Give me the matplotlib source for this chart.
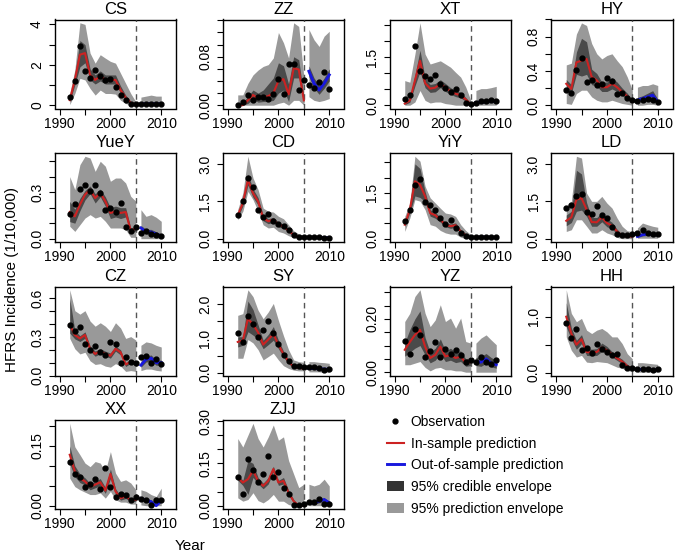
import numpy as np
import matplotlib
matplotlib.use('Agg')
import matplotlib.pyplot as plt
from matplotlib.lines import Line2D
from matplotlib.patches import Patch

plt.rcParams['font.family'] = ['Liberation Sans', 'DejaVu Sans']

years = list(range(1992, 2011))
split_year = 2005
regions = ['CS', 'ZZ', 'XT', 'HY', 'YueY', 'CD', 'YiY', 'LD',
           'CZ', 'SY', 'YZ', 'HH', 'XX', 'ZJJ']

# observed incidence, fitted/predicted median, 95% prediction and credible bounds
cs_obs = [0.42, 1.2, 2.95, 1.67, 1.37, 1.75, 1.45, 1.25, 1.3, 0.92, 0.5, 0.25, 0.08, 0.07, 0.07, 0.08, 0.07, 0.07, 0.07]
cs_fit = [0.25, 1.25, 2.5, 2.58, 1.5, 1.25, 1.45, 1.25, 1.25, 1.25, 0.75, 0.38, 0.12, 0.03, 0.06, 0.07, 0.07, 0.07, 0.06]
cs_pi_hi = [0.58, 1.75, 4.08, 4.0, 2.58, 2.08, 2.5, 2.33, 2.17, 2.08, 1.58, 1.08, 0.58, 0.17, 0.4, 0.45, 0.5, 0.45, 0.45]
cs_pi_lo = [0.03, 0.58, 1.33, 1.25, 0.83, 0.5, 0.75, 0.58, 0.58, 0.55, 0.25, 0.08, 0.02, 0.0, 0, 0, 0, 0, 0]
cs_ci_hi = [0.35, 1.5, 3.2, 3.0, 1.8, 1.5, 1.7, 1.5, 1.5, 1.5, 0.95, 0.5, 0.18, 0.06, 0.1, 0.1, 0.1, 0.1, 0.1]
cs_ci_lo = [0.18, 1.0, 1.9, 2.1, 1.25, 1.05, 1.2, 1.05, 1.05, 1.05, 0.6, 0.28, 0.08, 0.01, 0.04, 0.04, 0.04, 0.04, 0.04]

zz_obs = [0.0, 0.006, 0.017, 0.008, 0.013, 0.014, 0.011, 0.018, 0.043, 0.019, 0.068, 0.068, 0.025, 0.041, 0.034, 0.029, 0.039, 0.054, 0.026]
zz_fit = [0.0, 0.0, 0.008, 0.017, 0.011, 0.013, 0.015, 0.02, 0.04, 0.043, 0.018, 0.061, 0.059, 0.008, 0.056, 0.036, 0.025, 0.036, 0.05]
zz_pi_hi = [0.017, 0.017, 0.036, 0.05, 0.058, 0.064, 0.067, 0.078, 0.12, 0.103, 0.078, 0.136, 0.13, 0.047, 0.125, 0.108, 0.097, 0.114, 0.122]
zz_pi_lo = [0, 0, 0, 0, 0, 0, 0, 0, 0.003, 0.005, 0, 0.008, 0.008, 0, 0.014, 0.008, 0.006, 0.008, 0.011]
zz_ci_hi = [0.002, 0.004, 0.015, 0.025, 0.02, 0.025, 0.035, 0.045, 0.07, 0.065, 0.035, 0.08, 0.075, 0.015, 0.065, 0.045, 0.033, 0.045, 0.06]
zz_ci_lo = [0, 0, 0.003, 0.01, 0.005, 0.006, 0.006, 0.008, 0.02, 0.025, 0.006, 0.045, 0.045, 0.003, 0.047, 0.028, 0.018, 0.028, 0.04]

xt_obs = [0.18, 0.31, 1.84, 1.08, 0.9, 0.82, 0.93, 0.67, 0.55, 0.41, 0.52, 0.33, 0.07, 0.05, 0.08, 0.12, 0.12, 0.15, 0.12]
xt_fit = [0.05, 0.15, 0.77, 1.39, 0.69, 0.52, 0.55, 0.67, 0.55, 0.44, 0.36, 0.31, 0.18, 0.03, 0.08, 0.1, 0.11, 0.12, 0.12]
xt_pi_hi = [0.77, 0.72, 1.6, 2.58, 1.6, 1.29, 1.34, 1.39, 1.29, 1.19, 1.03, 0.88, 0.57, 0.15, 0.46, 0.52, 0.52, 0.55, 0.59]
xt_pi_lo = [0, 0, 0.1, 0.46, 0.15, 0.07, 0.1, 0.1, 0.05, 0.03, 0, 0, 0, 0, 0, 0, 0, 0, 0]
xt_ci_hi = [0.08, 0.22, 0.95, 1.72, 0.85, 0.65, 0.68, 0.8, 0.68, 0.55, 0.46, 0.4, 0.24, 0.06, 0.12, 0.14, 0.15, 0.17, 0.17]
xt_ci_lo = [0.02, 0.09, 0.6, 1.05, 0.55, 0.4, 0.42, 0.55, 0.43, 0.34, 0.27, 0.23, 0.12, 0.01, 0.05, 0.06, 0.07, 0.08, 0.08]

hy_obs = [0.175, 0.148, 0.416, 0.555, 0.272, 0.291, 0.233, 0.252, 0.318, 0.28, 0.136, 0.148, 0.085, 0.058, 0.05, 0.058, 0.078, 0.058, 0.039]
hy_fit = [0.25, 0.19, 0.5, 0.52, 0.54, 0.33, 0.29, 0.21, 0.21, 0.25, 0.21, 0.155, 0.105, 0.04, 0.058, 0.078, 0.097, 0.117, 0.039]
hy_pi_hi = [0.47, 0.49, 0.83, 0.96, 0.93, 0.72, 0.6, 0.54, 0.58, 0.6, 0.52, 0.45, 0.33, 0.175, 0.21, 0.23, 0.23, 0.25, 0.23]
hy_pi_lo = [0.02, 0.01, 0.136, 0.175, 0.175, 0.097, 0.058, 0.039, 0.039, 0.058, 0.039, 0.02, 0.01, 0.0, 0, 0, 0.01, 0.01, 0]
hy_ci_hi = [0.3, 0.24, 0.62, 0.78, 0.74, 0.42, 0.37, 0.27, 0.27, 0.32, 0.27, 0.2, 0.14, 0.06, 0.09, 0.11, 0.14, 0.17, 0.07]
hy_ci_lo = [0.19, 0.14, 0.36, 0.34, 0.36, 0.24, 0.22, 0.16, 0.16, 0.19, 0.16, 0.11, 0.07, 0.02, 0.03, 0.05, 0.06, 0.08, 0.02]

yuey_obs = [0.159, 0.224, 0.32, 0.344, 0.305, 0.348, 0.295, 0.187, 0.198, 0.172, 0.23, 0.073, 0.052, 0.073, 0.034, 0.052, 0.03, 0.026, 0.017]
yuey_fit = [0.172, 0.144, 0.219, 0.284, 0.316, 0.262, 0.295, 0.241, 0.166, 0.176, 0.166, 0.172, 0.052, 0.065, 0.069, 0.043, 0.043, 0.03, 0.017]
yuey_pi_hi = [0.40, 0.316, 0.477, 0.531, 0.52, 0.434, 0.499, 0.467, 0.37, 0.391, 0.391, 0.359, 0.273, 0.241, 0.187, 0.144, 0.155, 0.138, 0.112]
yuey_pi_lo = [0.08, 0.047, 0.09, 0.133, 0.155, 0.133, 0.144, 0.112, 0.069, 0.069, 0.069, 0.058, 0.009, 0.009, 0, 0, 0, 0, 0]
yuey_ci_hi = [0.24, 0.19, 0.26, 0.31, 0.34, 0.29, 0.32, 0.27, 0.2, 0.21, 0.2, 0.2, 0.07, 0.08, 0.085, 0.06, 0.06, 0.045, 0.03]
yuey_ci_lo = [0.11, 0.1, 0.18, 0.25, 0.29, 0.23, 0.27, 0.21, 0.13, 0.14, 0.13, 0.14, 0.035, 0.05, 0.055, 0.03, 0.028, 0.018, 0.008]

cd_obs = [0.96, 1.53, 2.44, 2.06, 1.14, 0.86, 0.99, 0.7, 0.6, 0.52, 0.36, 0.16, 0.08, 0.07, 0.07, 0.05, 0.05, 0.03, 0.03]
cd_fit = [0.94, 1.43, 2.37, 1.83, 1.5, 0.83, 0.7, 0.76, 0.56, 0.5, 0.32, 0.16, 0.05, 0.05, 0.06, 0.05, 0.05, 0.04, 0.03]
cd_pi_hi = [1.17, 1.83, 3.31, 2.44, 1.97, 1.23, 1.1, 1.07, 0.9, 0.8, 0.56, 0.32, 0.19, 0.13, 0.15, 0.15, 0.13, 0.12, 0.1]
cd_pi_lo = [0.76, 1.1, 1.9, 1.57, 1.1, 0.56, 0.43, 0.46, 0.29, 0.23, 0.12, 0.05, 0, 0, 0, 0, 0, 0, 0]
cd_ci_hi = [1.02, 1.55, 2.6, 2.0, 1.65, 0.95, 0.8, 0.86, 0.65, 0.58, 0.38, 0.2, 0.08, 0.07, 0.08, 0.07, 0.07, 0.06, 0.05]
cd_ci_lo = [0.86, 1.31, 2.15, 1.66, 1.35, 0.72, 0.6, 0.66, 0.47, 0.42, 0.26, 0.12, 0.03, 0.03, 0.04, 0.03, 0.03, 0.02, 0.02]

yiy_obs = [0.57, 0.95, 1.77, 1.97, 1.2, 1.12, 0.95, 0.68, 0.49, 0.6, 0.35, 0.19, 0.08, 0.04, 0.04, 0.05, 0.05, 0.04, 0.04]
yiy_fit = [0.46, 0.95, 1.88, 1.77, 1.39, 0.84, 0.77, 0.62, 0.46, 0.41, 0.44, 0.24, 0.11, 0.02, 0.04, 0.05, 0.05, 0.04, 0.04]
yiy_pi_hi = [0.73, 1.17, 2.7, 2.54, 1.72, 1.34, 1.17, 1.0, 0.84, 0.81, 0.73, 0.46, 0.27, 0.13, 0.13, 0.12, 0.12, 0.12, 0.12]
yiy_pi_lo = [0.24, 0.68, 1.28, 1.23, 0.95, 0.46, 0.41, 0.27, 0.19, 0.15, 0.15, 0.05, 0, 0, 0, 0, 0, 0, 0]
yiy_ci_hi = [0.52, 1.05, 2.45, 2.3, 1.55, 0.95, 0.87, 0.7, 0.53, 0.48, 0.52, 0.3, 0.15, 0.04, 0.06, 0.07, 0.07, 0.06, 0.06]
yiy_ci_lo = [0.4, 0.85, 1.4, 1.35, 1.22, 0.74, 0.67, 0.54, 0.39, 0.34, 0.37, 0.18, 0.07, 0.01, 0.02, 0.03, 0.03, 0.02, 0.02]

ld_obs = [1.23, 1.37, 1.7, 1.79, 1.07, 0.99, 1.33, 0.94, 0.83, 0.47, 0.2, 0.13, 0.16, 0.19, 0.23, 0.36, 0.23, 0.19, 0.19]
ld_fit = [0.72, 0.86, 1.57, 1.63, 1.17, 0.67, 0.66, 0.86, 0.63, 0.52, 0.29, 0.12, 0.09, 0.09, 0.09, 0.16, 0.19, 0.16, 0.16]
ld_pi_hi = [1.3, 1.5, 3.31, 3.24, 1.83, 1.5, 1.5, 1.7, 1.43, 1.23, 0.83, 0.5, 0.32, 0.29, 0.43, 0.63, 0.56, 0.5, 0.46]
ld_pi_lo = [0.29, 0.36, 0.76, 0.76, 0.5, 0.23, 0.23, 0.36, 0.23, 0.16, 0.05, 0, 0, 0, 0.02, 0.02, 0.02, 0.02, 0.02]
ld_ci_hi = [0.95, 1.1, 2.75, 2.6, 1.45, 0.85, 0.85, 1.05, 0.8, 0.66, 0.38, 0.17, 0.13, 0.13, 0.13, 0.21, 0.25, 0.21, 0.21]
ld_ci_lo = [0.52, 0.65, 1.1, 1.15, 0.9, 0.5, 0.5, 0.68, 0.48, 0.39, 0.2, 0.07, 0.05, 0.05, 0.05, 0.11, 0.13, 0.11, 0.11]

cz_obs = [0.392, 0.343, 0.376, 0.243, 0.195, 0.227, 0.181, 0.162, 0.262, 0.243, 0.1, 0.141, 0.108, 0.1, 0.141, 0.154, 0.1, 0.127, 0.092]
cz_fit = [0.397, 0.316, 0.289, 0.316, 0.208, 0.168, 0.189, 0.168, 0.154, 0.208, 0.181, 0.086, 0.108, 0.1, 0.081, 0.127, 0.135, 0.1, 0.1]
cz_pi_hi = [0.668, 0.505, 0.478, 0.505, 0.424, 0.384, 0.411, 0.384, 0.343, 0.411, 0.37, 0.289, 0.303, 0.276, 0.235, 0.262, 0.254, 0.235, 0.222]
cz_pi_lo = [0.289, 0.208, 0.168, 0.181, 0.114, 0.086, 0.092, 0.073, 0.065, 0.092, 0.073, 0.032, 0.038, 0.032, 0.038, 0.05, 0.05, 0.04, 0.035]
cz_ci_hi = [0.6, 0.35, 0.31, 0.34, 0.23, 0.19, 0.21, 0.19, 0.175, 0.23, 0.2, 0.1, 0.12, 0.115, 0.1, 0.15, 0.16, 0.12, 0.12]
cz_ci_lo = [0.33, 0.285, 0.265, 0.29, 0.19, 0.15, 0.17, 0.15, 0.135, 0.19, 0.16, 0.07, 0.095, 0.085, 0.065, 0.105, 0.11, 0.08, 0.08]

sy_obs = [1.15, 0.9, 1.66, 1.43, 1.03, 1.25, 1.5, 1.16, 0.84, 0.52, 0.34, 0.19, 0.19, 0.15, 0.15, 0.17, 0.12, 0.07, 0.09]
sy_fit = [0.9, 0.94, 1.58, 1.41, 1.18, 0.82, 0.97, 1.13, 0.82, 0.54, 0.32, 0.17, 0.14, 0.12, 0.12, 0.12, 0.11, 0.1, 0.09]
sy_pi_hi = [1.68, 1.73, 2.43, 2.23, 1.83, 1.58, 1.78, 2.03, 1.53, 1.08, 0.67, 0.37, 0.32, 0.3, 0.32, 0.32, 0.3, 0.29, 0.27]
sy_pi_lo = [0.42, 0.42, 0.97, 0.87, 0.67, 0.37, 0.47, 0.57, 0.37, 0.2, 0.12, 0.07, 0.05, 0.05, 0.02, 0.02, 0.02, 0.01, 0.01]
sy_ci_hi = [1.05, 1.05, 2.1, 1.85, 1.4, 0.95, 1.12, 1.35, 0.95, 0.63, 0.38, 0.21, 0.17, 0.15, 0.15, 0.15, 0.14, 0.13, 0.12]
sy_ci_lo = [0.75, 0.8, 1.2, 1.1, 0.98, 0.7, 0.82, 0.95, 0.7, 0.45, 0.26, 0.13, 0.11, 0.09, 0.09, 0.09, 0.08, 0.07, 0.06]

yz_obs = [0.118, 0.068, 0.163, 0.14, 0.056, 0.078, 0.113, 0.056, 0.086, 0.068, 0.085, 0.065, 0.04, 0.044, 0.04, 0.056, 0.038, 0.031, 0.046]
yz_fit = [0.084, 0.113, 0.14, 0.159, 0.096, 0.053, 0.065, 0.096, 0.059, 0.065, 0.053, 0.059, 0.034, 0.038, 0.038, 0.038, 0.05, 0.034, 0.028]
yz_pi_hi = [0.19, 0.221, 0.284, 0.309, 0.221, 0.171, 0.196, 0.253, 0.19, 0.203, 0.165, 0.203, 0.115, 0.109, 0.109, 0.128, 0.14, 0.121, 0.103]
yz_pi_lo = [0.028, 0.028, 0.034, 0.04, 0.018, 0.005, 0.015, 0.018, 0.009, 0.009, 0.005, 0.005, 0, 0, 0, 0, 0, 0, 0]
yz_ci_hi = [0.11, 0.16, 0.2, 0.23, 0.13, 0.075, 0.09, 0.125, 0.08, 0.09, 0.075, 0.08, 0.05, 0.055, 0.055, 0.06, 0.07, 0.055, 0.045]
yz_ci_lo = [0.06, 0.075, 0.09, 0.1, 0.065, 0.035, 0.045, 0.07, 0.04, 0.045, 0.036, 0.04, 0.022, 0.025, 0.025, 0.022, 0.033, 0.02, 0.015]

hh_obs = [0.89, 0.62, 0.78, 0.41, 0.45, 0.36, 0.52, 0.43, 0.37, 0.32, 0.33, 0.13, 0.09, 0.09, 0.066, 0.066, 0.06, 0.048, 0.06]
hh_fit = [1.0, 0.7, 0.5, 0.6, 0.37, 0.36, 0.37, 0.45, 0.4, 0.33, 0.26, 0.2, 0.12, 0.07, 0.06, 0.06, 0.055, 0.05, 0.05]
hh_pi_hi = [1.48, 1.06, 0.91, 0.97, 0.76, 0.7, 0.76, 0.79, 0.73, 0.64, 0.64, 0.52, 0.34, 0.25, 0.18, 0.18, 0.17, 0.16, 0.15]
hh_pi_lo = [0.64, 0.4, 0.28, 0.31, 0.19, 0.18, 0.2, 0.19, 0.18, 0.14, 0.1, 0.08, 0.04, 0.02, 0.01, 0.01, 0.01, 0.01, 0.01]
hh_ci_hi = [1.25, 0.8, 0.58, 0.68, 0.43, 0.42, 0.43, 0.53, 0.47, 0.38, 0.3, 0.24, 0.15, 0.09, 0.08, 0.08, 0.075, 0.07, 0.07]
hh_ci_lo = [0.82, 0.6, 0.42, 0.52, 0.31, 0.3, 0.31, 0.38, 0.34, 0.28, 0.22, 0.16, 0.09, 0.05, 0.045, 0.045, 0.04, 0.035, 0.035]

xx_obs = [0.111, 0.079, 0.071, 0.048, 0.055, 0.068, 0.043, 0.094, 0.047, 0.023, 0.03, 0.026, 0.015, 0.022, 0.018, 0.015, 0.001, 0.015, 0.015]
xx_fit = [0.128, 0.086, 0.069, 0.061, 0.048, 0.053, 0.059, 0.038, 0.08, 0.036, 0.019, 0.023, 0.015, 0.015, 0.018, 0.014, 0.01, 0.0, 0.013]
xx_pi_hi = [0.207, 0.148, 0.128, 0.107, 0.098, 0.111, 0.107, 0.086, 0.136, 0.082, 0.061, 0.065, 0.057, 0.04, 0.04, 0.036, 0.028, 0.023, 0.044]
xx_pi_lo = [0.069, 0.048, 0.04, 0.034, 0.028, 0.028, 0.032, 0.019, 0.036, 0.015, 0.009, 0.009, 0.004, 0.004, 0.002, 0, 0, 0, 0]
xx_ci_hi = [0.15, 0.1, 0.08, 0.07, 0.056, 0.062, 0.068, 0.046, 0.092, 0.043, 0.024, 0.028, 0.019, 0.019, 0.022, 0.017, 0.015, 0.005, 0.018]
xx_ci_lo = [0.105, 0.073, 0.058, 0.052, 0.04, 0.045, 0.05, 0.031, 0.068, 0.029, 0.014, 0.018, 0.011, 0.011, 0.014, 0.009, 0.007, 0.0, 0.009]

zjj_obs = [0.102, 0.042, 0.166, 0.126, 0.085, 0.112, 0.175, 0.103, 0.121, 0.064, 0.04, 0.001, 0.001, 0.007, 0.012, 0.013, 0.024, 0.007, 0.007]
zjj_fit = [0.1, 0.082, 0.094, 0.124, 0.088, 0.07, 0.088, 0.13, 0.082, 0.088, 0.046, 0.016, 0.0, 0.0, 0.01, 0.01, 0.016, 0.022, 0.01]
zjj_pi_hi = [0.238, 0.208, 0.25, 0.292, 0.238, 0.208, 0.244, 0.286, 0.232, 0.244, 0.16, 0.112, 0.064, 0.076, 0.076, 0.07, 0.076, 0.094, 0.07]
zjj_pi_lo = [0.028, 0.016, 0.022, 0.046, 0.018, 0.01, 0.022, 0.04, 0.016, 0.016, 0.004, 0, 0, 0, 0, 0, 0, 0, 0]
zjj_ci_hi = [0.11, 0.09, 0.16, 0.15, 0.1, 0.08, 0.1, 0.14, 0.09, 0.1, 0.055, 0.022, 0.003, 0.004, 0.015, 0.015, 0.021, 0.028, 0.015]
zjj_ci_lo = [0.09, 0.072, 0.04, 0.1, 0.077, 0.06, 0.077, 0.12, 0.072, 0.077, 0.038, 0.01, 0.0, 0.0, 0.005, 0.005, 0.01, 0.015, 0.005]

# y-axis ticks per panel, '' where R skipped the label
x_ticks = [1990, 1995, 2000, 2005, 2010]
x_labels = ['1990', '', '2000', '', '2010']
y_axes = {
    'CS':   ([0, 1, 2, 3, 4], ['0', '', '2', '', '4']),
    'ZZ':   ([0, .02, .04, .06, .08, .10, .12, .14], ['0.00', '', '', '', '0.08', '', '', '']),
    'XT':   ([0, .5, 1, 1.5, 2, 2.5], ['0.0', '', '', '1.5', '', '']),
    'HY':   ([0, .2, .4, .6, .8, 1.0], ['0.0', '', '0.4', '', '0.8', '']),
    'YueY': ([0, .1, .2, .3, .4, .5], ['0.0', '', '', '0.3', '', '']),
    'CD':   ([0, 1.5, 3.0], ['0.0', '1.5', '3.0']),
    'YiY':  ([0, .5, 1, 1.5, 2, 2.5], ['0.0', '', '', '1.5', '', '']),
    'LD':   ([0, 1.5, 3.0], ['0.0', '1.5', '3.0']),
    'CZ':   ([0, .1, .2, .3, .4, .5, .6], ['0.0', '', '', '0.3', '', '', '0.6']),
    'SY':   ([0, .5, 1, 1.5, 2], ['0.0', '', '1.0', '', '2.0']),
    'YZ':   ([0, .05, .1, .15, .2, .25, .3], ['0.00', '', '', '', '0.20', '', '']),
    'HH':   ([0, .5, 1, 1.5], ['0.0', '', '1.0', '']),
    'XX':   ([0, .05, .1, .15, .2], ['0.00', '', '', '0.15', '']),
    'ZJJ':  ([0, .05, .1, .15, .2, .25, .3], ['0.00', '', '', '0.15', '', '', '0.30']),
}

series = {
    'CS': (cs_obs, cs_fit, cs_pi_lo, cs_pi_hi, cs_ci_lo, cs_ci_hi),
    'ZZ': (zz_obs, zz_fit, zz_pi_lo, zz_pi_hi, zz_ci_lo, zz_ci_hi),
    'XT': (xt_obs, xt_fit, xt_pi_lo, xt_pi_hi, xt_ci_lo, xt_ci_hi),
    'HY': (hy_obs, hy_fit, hy_pi_lo, hy_pi_hi, hy_ci_lo, hy_ci_hi),
    'YueY': (yuey_obs, yuey_fit, yuey_pi_lo, yuey_pi_hi, yuey_ci_lo, yuey_ci_hi),
    'CD': (cd_obs, cd_fit, cd_pi_lo, cd_pi_hi, cd_ci_lo, cd_ci_hi),
    'YiY': (yiy_obs, yiy_fit, yiy_pi_lo, yiy_pi_hi, yiy_ci_lo, yiy_ci_hi),
    'LD': (ld_obs, ld_fit, ld_pi_lo, ld_pi_hi, ld_ci_lo, ld_ci_hi),
    'CZ': (cz_obs, cz_fit, cz_pi_lo, cz_pi_hi, cz_ci_lo, cz_ci_hi),
    'SY': (sy_obs, sy_fit, sy_pi_lo, sy_pi_hi, sy_ci_lo, sy_ci_hi),
    'YZ': (yz_obs, yz_fit, yz_pi_lo, yz_pi_hi, yz_ci_lo, yz_ci_hi),
    'HH': (hh_obs, hh_fit, hh_pi_lo, hh_pi_hi, hh_ci_lo, hh_ci_hi),
    'XX': (xx_obs, xx_fit, xx_pi_lo, xx_pi_hi, xx_ci_lo, xx_ci_hi),
    'ZJJ': (zjj_obs, zjj_fit, zjj_pi_lo, zjj_pi_hi, zjj_ci_lo, zjj_ci_hi),
}

light = '#999999'
dark = '#4a4a4a'
red = '#cc2222'
blue = '#1818dd'

W, H = 680, 555
col_x = [54.5, 222.5, 389.5, 551]
row_y = [19.5, 153, 286.5, 420]
box_w, box_h = 121.5, 89

fig = plt.figure(figsize=(W / 100, H / 100), dpi=100)
yr = np.array(years)
ins = yr <= split_year
out = ~ins

for k, name in enumerate(regions):
    r, c = divmod(k, 4)
    ax = fig.add_axes([col_x[c] / W, 1 - (row_y[r] + box_h) / H, box_w / W, box_h / H])
    obs, fit, pi_lo, pi_hi, ci_lo, ci_hi = [np.array(a, dtype=float) for a in series[name]]

    for m in (ins, out):
        ax.fill_between(yr[m], pi_lo[m], pi_hi[m], color=light, lw=0, zorder=1)
        ax.fill_between(yr[m], ci_lo[m], ci_hi[m], color=dark, lw=0, zorder=2)
    ax.axvline(split_year, color='#555555', lw=1, ls=(0, (4, 3)), zorder=3)
    ax.plot(yr[ins], fit[ins], color=red, lw=1.5, zorder=4)
    ax.plot(yr[out], fit[out], color=blue, lw=2.1, zorder=4)
    ax.plot(yr, obs, 'o', color='black', ms=3.5, zorder=5)

    lo = min(a.min() for a in (obs, fit, pi_lo, pi_hi, ci_lo, ci_hi))
    hi = max(a.max() for a in (obs, fit, pi_lo, pi_hi, ci_lo, ci_hi))
    pad = 0.04 * (hi - lo)
    ax.set_ylim(lo - pad, hi + pad)
    ax.set_xlim(1989.0, 2012.9)

    ax.set_xticks(x_ticks)
    ax.set_xticklabels(x_labels, fontsize=10)
    ticks, labels = y_axes[name]
    ax.set_yticks(ticks)
    ax.set_yticklabels(labels, fontsize=10, rotation=90, va='center')
    ax.tick_params(direction='out', length=4.5, width=0.8, pad=1.5)
    ax.tick_params(axis='y', pad=3)
    for s in ax.spines.values():
        s.set_linewidth(1.0)
    ax.set_title(name, fontsize=12, pad=4)

handles = [
    Line2D([], [], marker='o', color='black', ls='none', ms=3.5),
    Line2D([], [], color=red, lw=1.5),
    Line2D([], [], color=blue, lw=2.1),
    Patch(facecolor='#333333', edgecolor='none'),
    Patch(facecolor=light, edgecolor='none'),
]
labels = ['Observation', 'In-sample prediction', 'Out-of-sample prediction',
          '95% credible envelope', '95% prediction envelope']
fig.legend(handles, labels, loc='upper left', bbox_to_anchor=(387 / W, 1 - 415 / H),
           frameon=False, fontsize=10, handlelength=1.2, handletextpad=0.5,
           labelspacing=0.55, borderpad=0, borderaxespad=0)

fig.text(190 / W, 1 - 546 / H, 'Year', ha='center', va='center', fontsize=11)
fig.text(12 / W, 1 - 280 / H, 'HFRS Incidence (1/10,000)', rotation=90,
         ha='center', va='center', fontsize=11)

fig.savefig('out.png', dpi=100)
